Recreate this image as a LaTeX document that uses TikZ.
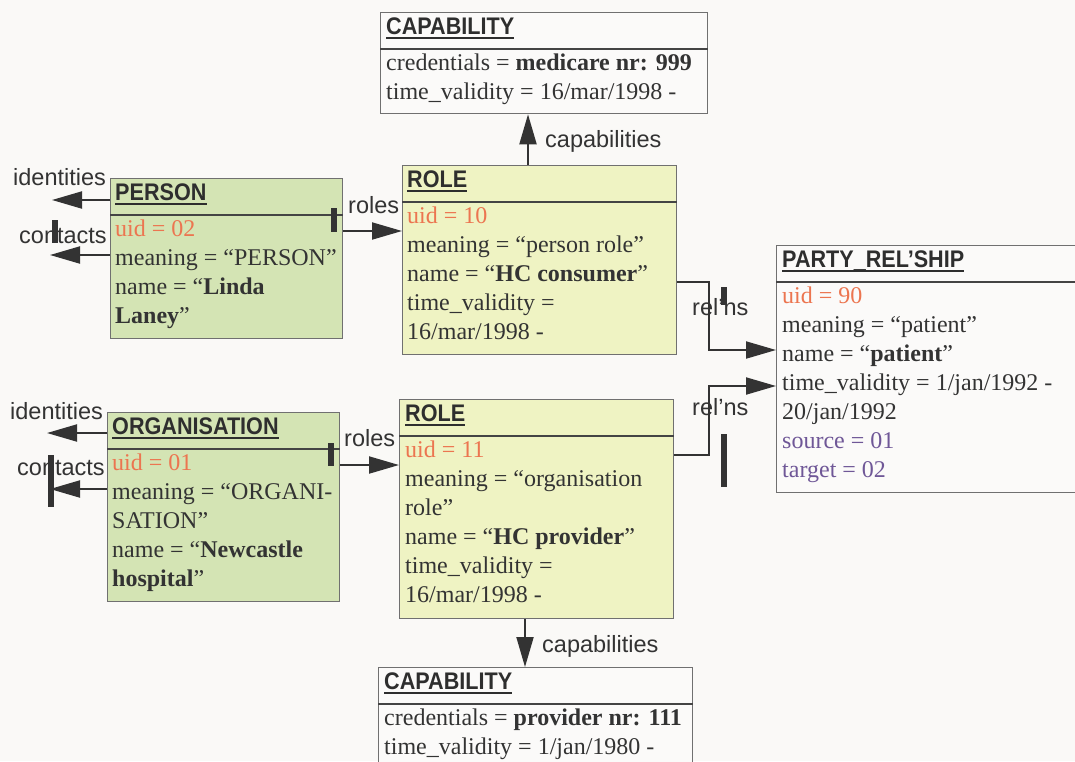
\documentclass[tikz,border=0pt]{standalone}
\usepackage{fontspec}
\setmainfont{Liberation Serif}
\newfontfamily\labelfont{Liberation Sans}
\newfontfamily\titlefont[FakeStretch=0.9]{Liberation Sans Bold}
\usetikzlibrary{arrows.meta,calc}
\definecolor{bg}{HTML}{FAF9F7}
\definecolor{personfill}{HTML}{D4E4B4}
\definecolor{rolefill}{HTML}{EFF3C3}
\definecolor{plainfill}{HTML}{FBFAF9}
\definecolor{boxborder}{HTML}{707070}
\definecolor{divc}{HTML}{444444}
\definecolor{txt}{HTML}{333333}
\definecolor{titlec}{HTML}{2E2E2E}
\definecolor{linec}{HTML}{333333}
\definecolor{uidc}{HTML}{EC7550}
\definecolor{purp}{HTML}{6F5797}
\tikzset{
  box/.style={draw=boxborder, line width=1.3pt, anchor=north west, inner sep=0pt},
  body/.style={anchor=base west, inner sep=0pt, font=\fontsize{24}{29}\selectfont, text=txt},
  ttl/.style={anchor=base west, inner sep=0pt, font=\titlefont\fontsize{24}{29}\selectfont, text=titlec},
  lbl/.style={anchor=base west, inner sep=0pt, font=\labelfont\fontsize{23.5}{28}\selectfont, text=txt},
  conn/.style={draw=linec, line width=2pt, -{Triangle[length=30pt,width=17pt]}},
  bar/.style={draw=linec, line width=6pt},
  div/.style={draw=divc, line width=1.3pt},
  uline/.style={draw=titlec, line width=2pt}
}
\begin{document}
\begin{tikzpicture}[x=1pt,y=-1pt]
\fill[bg] (0,0) rectangle (1075,761);
\path[use as bounding box] (0,0) rectangle (1075,761);
\clip (0,0) rectangle (1075,761);

% boxes
\node[box, fill=plainfill, minimum width=327pt, minimum height=101pt] (cap1) at (380,12) {};
\node[box, fill=rolefill, minimum width=274pt, minimum height=189pt] (role1) at (402,165) {};
\node[box, fill=personfill, minimum width=232pt, minimum height=160pt] (person) at (110,178) {};
\node[box, fill=plainfill, minimum width=330pt, minimum height=247pt] (party) at (776,245) {};
\node[box, fill=personfill, minimum width=232pt, minimum height=189pt] (org) at (107,412) {};
\node[box, fill=rolefill, minimum width=274pt, minimum height=219pt] (role2) at (399,399) {};
\node[box, fill=plainfill, minimum width=314pt, minimum height=130pt] (cap2) at (378,667) {};

% dividers
\foreach \b in {cap1,role1,person,party,org,role2,cap2}{
  \draw[div] ($(\b.north west)+(0,37)$) -- ($(\b.north east)+(0,37)$);
}

% titles
\node[ttl] (tcap1) at (386,34) {CAPABILITY};
\node[ttl] (trole1) at (407,187) {ROLE};
\node[ttl] (tperson) at (115,200) {PERSON};
\node[ttl] (tparty) at (782,267) {PARTY\_REL’SHIP};
\node[ttl] (torg) at (112,434) {ORGANISATION};
\node[ttl] (trole2) at (405,421) {ROLE};
\node[ttl] (tcap2) at (384,689) {CAPABILITY};
\foreach \t in {tcap1,trole1,tperson,tparty,torg,trole2,tcap2}{
  \draw[uline] ([yshift=-3.5pt]\t.base west) -- ([yshift=-3.5pt]\t.base east);
}

% capability 1
\node[body] (c1a) at (386,70) {credentials = \textbf{medicare nr: 999}};
\node[body] (c1b) at (386,99) {time\_validity = 16/mar/1998 -};

% person
\node[body, text=uidc] (pa) at (115,236) {uid = 02};
\node[body] (pb) at (115,265) {meaning = “PERSON”};
\node[body] (pc) at (115,294) {name = “\textbf{Linda}};
\node[body] (pd) at (115,323) {\textbf{Laney}”};

% role 1
\node[body, text=uidc] (r1a) at (407,223) {uid = 10};
\node[body] (r1b) at (407,252) {meaning = “person role”};
\node[body] (r1c) at (407,281) {name = “\textbf{HC consumer}”};
\node[body] (r1d) at (407,310) {time\_validity =};
\node[body] (r1e) at (407,339) {16/mar/1998 -};

% party relationship
\node[body, text=uidc] (ra) at (782,303) {uid = 90};
\node[body] (rb) at (782,332) {meaning = “patient”};
\node[body] (rc) at (782,361) {name = “\textbf{patient}”};
\node[body] (rd) at (782,390) {time\_validity = 1/jan/1992 -};
\node[body] (re) at (782,419) {20/jan/1992};
\node[body, text=purp] (rf) at (782,448) {source = 01};
\node[body, text=purp] (rg) at (782,477) {target = 02};

% organisation
\node[body, text=uidc] (oa) at (112,470) {uid = 01};
\node[body] (ob) at (112,499) {meaning = “ORGANI-};
\node[body] (oc) at (112,528) {SATION”};
\node[body] (od) at (112,557) {name = “\textbf{Newcastle}};
\node[body] (oe) at (112,586) {\textbf{hospital}”};

% role 2
\node[body, text=uidc] (r2a) at (405,457) {uid = 11};
\node[body] (r2b) at (405,486) {meaning = “organisation};
\node[body] (r2c) at (405,515) {role”};
\node[body] (r2d) at (405,544) {name = “\textbf{HC provider}”};
\node[body] (r2e) at (405,573) {time\_validity =};
\node[body] (r2f) at (405,602) {16/mar/1998 -};

% capability 2
\node[body] (c2a) at (384,725) {credentials = \textbf{provider nr: 111}};
\node[body] (c2b) at (384,754) {time\_validity = 1/jan/1980 -};

% labels
\node[lbl] (lidp) at (13,185) {identities};
\node[lbl] (lctp) at (19,243) {contacts};
\node[lbl] (lrop) at (348,213) {roles};
\node[lbl] (lido) at (10,419) {identities};
\node[lbl] (lcto) at (17,475) {contacts};
\node[lbl] (lroo) at (344,446) {roles};
\node[lbl] (lcap1) at (545,147) {capabilities};
\node[lbl] (lcap2) at (542,652) {capabilities};
\node[lbl] (lrel1) at (692,315) {rel’ns};
\node[lbl] (lrel2) at (692,415) {rel’ns};

% free ends
\coordinate (idP) at (52,200);
\coordinate (ctP) at (50,255);
\coordinate (idO) at (47,433);
\coordinate (ctO) at (50,489);

% connectors
\draw[conn] ($(person.north west)+(0,22)$) -- (idP);
\draw[conn] ($(person.north west)+(0,77)$) -- (ctP);
\draw[conn] ($(person.north east)+(0,53)$) -- ($(role1.north west)+(0,66)$);
\draw[conn] ($(role1.north west)+(126,0)$) -- ($(cap1.south west)+(148,0)$);
\draw[conn] ($(role1.north east)+(0,117)$) -- ++(32,0) |- ($(party.north west)+(0,105)$);
\draw[conn] ($(org.north west)+(0,21)$) -- (idO);
\draw[conn] ($(org.north west)+(0,77)$) -- (ctO);
\draw[conn] ($(org.north east)+(0,53)$) -- ($(role2.north west)+(0,66)$);
\draw[conn] ($(role2.south west)+(126,0)$) -- ($(cap2.north west)+(147,0)$);
\draw[conn] ($(role2.north east)+(0,56)$) -- ++(35,0) |- ($(party.north west)+(0,141)$);

% multiplicity bars
\draw[bar] (54.5,220) -- (54.5,243);
\draw[bar] (334,208) -- (334,232);
\draw[bar] (51,455) -- (51,507);
\draw[bar] (331,443) -- (331,466);
\draw[bar] (724,287) -- (724,305);
\draw[bar] (724,434) -- (724,487);
\end{tikzpicture}
\end{document}
